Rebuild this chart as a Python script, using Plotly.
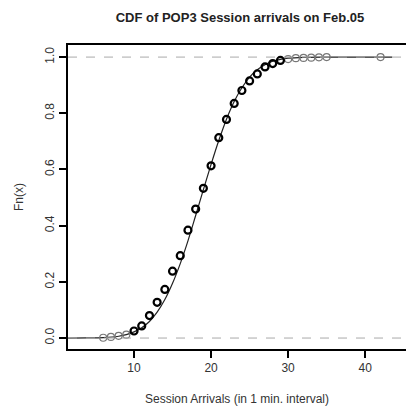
import plotly.graph_objects as go

# Empirical CDF points (session arrivals per 1-min interval)
arrivals = [6, 7, 8, 9, 10, 11, 12, 13, 14, 15, 16, 17, 18, 19, 20, 21, 22, 23, 24,
            25, 26, 27, 28, 29, 30, 31, 32, 33, 34, 35, 42]
fn_vals = [0.001, 0.004, 0.008, 0.012, 0.025, 0.043, 0.080, 0.127, 0.173, 0.238,
           0.293, 0.384, 0.459, 0.533, 0.613, 0.713, 0.778, 0.835, 0.881, 0.915,
           0.940, 0.965, 0.977, 0.988, 0.993, 0.996, 0.997, 0.998, 0.999, 1.000, 1.000]
# Fitted smooth CDF curve
curve_x = [1.0, 4, 6, 8, 9, 10, 11, 12, 13, 14, 15, 16, 17, 18, 19, 20, 21, 22, 23,
           24, 25, 26, 27, 28, 29, 30, 32, 35, 43.5]
curve_y = [0.0, 0.0003, 0.0016, 0.0064, 0.012, 0.022, 0.037, 0.059, 0.092, 0.137,
           0.195, 0.265, 0.346, 0.436, 0.528, 0.618, 0.703, 0.779, 0.842, 0.891,
           0.929, 0.955, 0.973, 0.985, 0.992, 0.996, 0.999, 1.0, 1.0]
x_ticks = [10, 20, 30, 40]
y_ticks = [0.0, 0.2, 0.4, 0.6, 0.8, 1.0]

dark = [i for i, v in enumerate(arrivals) if 10 <= v <= 29]
light = [i for i, v in enumerate(arrivals) if not (10 <= v <= 29)]

fig = go.Figure()
fig.add_hline(y=0, line=dict(color="#aaaaaa", width=1, dash="dash"))
fig.add_hline(y=1, line=dict(color="#aaaaaa", width=1, dash="dash"))
fig.add_trace(go.Scatter(x=curve_x, y=curve_y, mode="lines", line=dict(color="#222", width=1.2, shape="spline"),
                         hoverinfo="skip", showlegend=False))
fig.add_trace(go.Scatter(x=[arrivals[i] for i in light], y=[fn_vals[i] for i in light], mode="markers",
                         marker=dict(symbol="circle-open", size=7, color="#777", line=dict(width=1.2, color="#777")),
                         showlegend=False))
fig.add_trace(go.Scatter(x=[arrivals[i] for i in dark], y=[fn_vals[i] for i in dark], mode="markers",
                         marker=dict(symbol="circle-open", size=7, color="black", line=dict(width=2.2, color="black")),
                         showlegend=False))

font = "Liberation Sans, Arial, sans-serif"
fig.update_layout(
    width=407, height=408,
    margin=dict(l=68, r=1, t=45, b=59, autoexpand=False),
    plot_bgcolor="white", paper_bgcolor="white",
    font=dict(family=font, size=12, color="#333"),
    title=dict(text="<b>CDF of POP3 Session arrivals on Feb.05</b>", x=240/407, xref="container",
               xanchor="center", y=1 - 17/408, yanchor="middle", yref="container",
               font=dict(size=13, color="#222", family=font)),
    xaxis=dict(range=[1.43, 45.3], tickvals=x_ticks, ticktext=[str(v) for v in x_ticks],
               showgrid=False, zeroline=False, showline=True, linecolor="black", linewidth=1.5,
               mirror=True, ticks="outside", ticklen=7, tickcolor="black", tickwidth=1.5,
               title=dict(text="Session Arrivals (in 1 min. interval)", font=dict(size=12, color="#333"), standoff=20)),
    yaxis=dict(range=[-0.039, 1.043], tickvals=y_ticks, ticktext=["%.1f" % v for v in y_ticks],
               tickangle=-90, showgrid=False, zeroline=False, showline=True, linecolor="black", linewidth=1.5,
               mirror=False, ticks="outside", ticklen=7, tickcolor="black", tickwidth=1.5,
               title=dict(text="Fn(x)", font=dict(size=12, color="#333"), standoff=17)),
)
fig.write_html("out.html")
